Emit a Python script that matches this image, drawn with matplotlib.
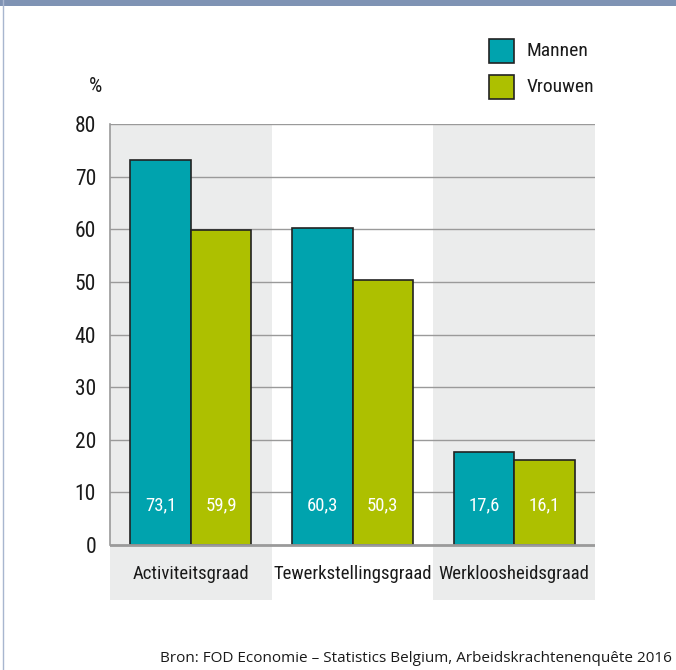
import matplotlib.pyplot as plt
import numpy as np
from matplotlib.patches import Rectangle
from matplotlib.lines import Line2D

# Data
categories = ["Activiteitsgraad", "Tewerkstellingsgraad", "Werkloosheidsgraad"]
mannen = [73.1, 60.3, 17.6]
vrouwen = [59.9, 50.3, 16.1]
series_names = ["Mannen", "Vrouwen"]

teal = "#00A3AE"
olive = "#ADC000"
band = "#EBECEC"
grid_col = "#9A9A9A"

plt.rcParams['font.family'] = ['Roboto Condensed', 'Open Sans Condensed', 'DejaVu Sans']

fig = plt.figure(figsize=(6.76, 6.70), dpi=100)
ax = fig.add_axes([110/676, 70/670, 485/676, 476/670])

x = np.arange(len(categories))
w = 0.375

# background bands for groups 1 and 3
for i in [0, 2]:
    ax.axvspan(i - 0.5, i + 0.5, color=band, zorder=0, lw=0)

# gridlines
for v in range(10, 90, 10):
    ax.axhline(v, color=grid_col, lw=1, zorder=1)
ax.axhline(0, color=grid_col, lw=2, zorder=3)

ax.bar(x - w/2, mannen, w, color=teal, edgecolor="#222222", lw=1.2, zorder=2)
ax.bar(x + w/2, vrouwen, w, color=olive, edgecolor="#222222", lw=1.2, zorder=2)

for i in range(len(categories)):
    ax.text(x[i] - w/2, 7.6, f"{mannen[i]:.1f}".replace(".", ","), color="white",
            ha="center", va="center", fontsize=13.5, zorder=4)
    ax.text(x[i] + w/2, 7.6, f"{vrouwen[i]:.1f}".replace(".", ","), color="white",
            ha="center", va="center", fontsize=13.5, zorder=4)
    ax.text(x[i], -5.6, categories[i], ha="center", va="center", fontsize=13.5,
            color="#1a1a1a", zorder=4)

ax.set_xlim(-0.5, 2.5)
ax.set_ylim(-10.45, 80)
ax.set_yticks(range(0, 90, 10))
ax.tick_params(axis="y", length=0, labelsize=15.5, pad=10, labelcolor="#1a1a1a")
ax.set_xticks([])
for s in ["top", "right", "bottom"]:
    ax.spines[s].set_visible(False)
ax.spines["left"].set_bounds(0, 80)
ax.spines["left"].set_color(grid_col)
ax.spines["left"].set_linewidth(1.2)
ax.patch.set_alpha(0)

fig.text(95/676, 1 - 87/670, "%", ha="center", va="center", fontsize=15, color="#1a1a1a")

# legend
for j, (name, col) in enumerate(zip(series_names, [teal, olive])):
    y0 = 1 - (63 + 36*j)/670
    fig.patches.append(Rectangle((489/676, y0), 25/676, 24/670, transform=fig.transFigure,
                                 facecolor=col, edgecolor="#222222", lw=1.2))
    fig.text(527/676, y0 + 12/670, name, ha="left", va="center", fontsize=14, color="#1a1a1a")

# frame decorations
fig.patches.append(Rectangle((0, 1 - 6/670), 1, 6/670, transform=fig.transFigure,
                             facecolor="#7F93B4", edgecolor="none"))
fig.lines.append(Line2D([3/676, 3/676], [0, 1], transform=fig.transFigure, color="#A8B6CF", lw=1))

fig.text(672/676, 1 - 658/670, "Bron: FOD Economie \u2013 Statistics Belgium, Arbeidskrachtenenquête 2016",
         ha="right", va="center", fontsize=11, color="#1a1a1a",
         family=["Open Sans", "DejaVu Sans"])

fig.savefig("out.png", dpi=100)
